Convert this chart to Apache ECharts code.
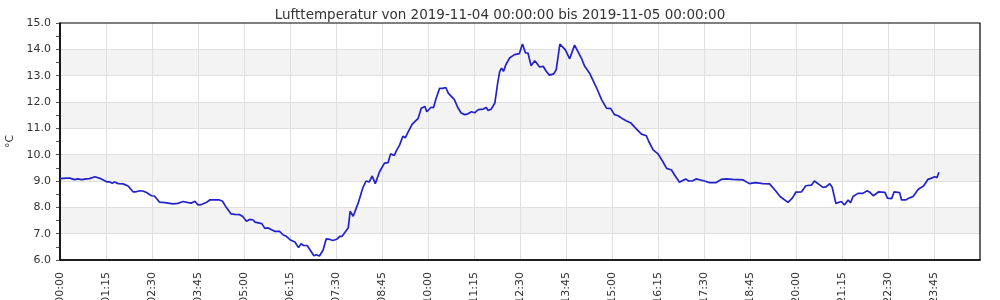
<!DOCTYPE html>
<html><head><meta charset="utf-8">
<script src="https://cdn.jsdelivr.net/npm/echarts@6/dist/echarts.min.js"></script>
<style>html,body{margin:0;padding:0;background:#fff}#c{width:1000px;height:300px}</style>
</head><body><div id="c"></div>
<script>
var titleText = "Lufttemperatur von 2019-11-04 00:00:00 bis 2019-11-05 00:00:00";
var yName = "°C";
var times = ["00:00","00:10","00:16","00:24","00:29","00:35","00:43","00:48","00:57","00:59","01:05","01:16","01:21","01:25","01:29","01:35","01:43","01:51","01:59","02:04","02:10","02:15","02:21","02:29","02:34","02:42","02:51","02:59","03:04","03:12","03:21","03:29","03:34","03:40","03:45","03:50","03:59","04:04","04:12","04:20","04:25","04:31","04:39","04:45","04:53","04:58","05:04","05:09","05:15","05:18","05:29","05:34","05:39","05:45","05:50","05:58","06:04","06:09","06:15","06:23","06:29","06:33","06:37","06:43","06:54","06:58","07:03","07:09","07:14","07:20","07:25","07:32","07:36","07:40","07:50","07:53","07:58","08:06","08:14","08:19","08:24","08:29","08:34","08:41","08:49","08:55","08:59","09:05","09:09","09:14","09:19","09:23","09:27","09:34","09:44","09:49","09:55","09:58","10:05","10:09","10:13","10:19","10:24","10:29","10:33","10:43","10:49","10:54","11:00","11:05","11:11","11:16","11:22","11:30","11:35","11:38","11:43","11:49","11:54","11:57","12:00","12:03","12:07","12:13","12:21","12:29","12:34","12:39","12:43","12:48","12:54","13:02","13:08","13:13","13:18","13:25","13:29","13:35","13:44","13:51","13:59","14:10","14:15","14:24","14:35","14:43","14:51","14:58","15:04","15:10","15:18","15:23","15:31","15:40","15:48","15:56","16:00","16:07","16:15","16:23","16:29","16:37","16:42","16:50","17:00","17:05","17:11","17:17","17:26","17:31","17:39","17:50","17:58","18:06","18:17","18:34","18:37","18:44","18:54","19:06","19:17","19:28","19:34","19:47","19:54","20:00","20:09","20:16","20:25","20:30","20:44","20:49","20:55","20:59","21:05","21:14","21:19","21:25","21:29","21:33","21:41","21:49","21:56","22:01","22:06","22:15","22:25","22:29","22:36","22:40","22:49","22:52","22:59","23:04","23:11","23:19","23:24","23:28","23:35","23:40","23:46","23:50","23:53","24:00"];
var temps = [9.09,9.11,9.11,9.05,9.08,9.05,9.08,9.09,9.16,9.16,9.1,8.97,8.97,8.91,8.96,8.9,8.89,8.81,8.59,8.59,8.63,8.62,8.56,8.44,8.43,8.2,8.18,8.15,8.13,8.15,8.22,8.18,8.16,8.23,8.09,8.1,8.19,8.28,8.28,8.28,8.23,8.0,7.75,7.73,7.72,7.65,7.47,7.54,7.52,7.44,7.38,7.2,7.22,7.15,7.09,7.09,6.95,6.9,6.77,6.68,6.47,6.62,6.55,6.55,6.16,6.2,6.15,6.38,6.8,6.78,6.74,6.8,6.9,6.9,7.22,7.85,7.66,8.15,8.76,9.0,8.96,9.19,8.9,9.35,9.68,9.7,10.03,9.97,10.17,10.38,10.7,10.64,10.84,11.15,11.38,11.76,11.83,11.63,11.8,11.79,12.12,12.52,12.52,12.55,12.34,12.09,11.77,11.58,11.52,11.55,11.63,11.59,11.71,11.73,11.79,11.68,11.73,11.96,12.78,13.16,13.29,13.16,13.42,13.67,13.8,13.84,14.2,13.86,13.86,13.38,13.57,13.33,13.35,13.16,13.02,13.07,13.22,14.2,13.98,13.64,14.16,13.67,13.38,13.07,12.53,12.09,11.77,11.75,11.52,11.48,11.35,11.29,11.2,10.97,10.78,10.72,10.5,10.18,10.03,9.73,9.48,9.42,9.23,8.95,9.08,9.0,9.0,9.08,9.03,9.0,8.94,8.94,9.06,9.08,9.06,9.04,9.08,8.9,8.94,8.9,8.89,8.59,8.41,8.19,8.35,8.58,8.59,8.82,8.84,9.0,8.76,8.78,8.9,8.76,8.15,8.22,8.09,8.28,8.18,8.41,8.53,8.53,8.63,8.56,8.44,8.59,8.57,8.35,8.33,8.59,8.56,8.28,8.28,8.35,8.41,8.68,8.75,8.81,9.06,9.1,9.16,9.13,9.33];
var yTicks = ["6.0","7.0","8.0","9.0","10.0","11.0","12.0","13.0","14.0","15.0"];

function toMin(t){var p=t.split(':');return (+p[0])*60+(+p[1]);}
function fmt(m){var h=Math.floor(m/60),mm=m%60;return (h<10?'0':'')+h+':'+(mm<10?'0':'')+mm;}
var data = times.map(function(t,i){return [toMin(t), temps[i]];});
var font = 'DejaVu Sans';
var chart = echarts.init(document.getElementById('c'));
chart.setOption({
  animation:false,
  title:{text:titleText,left:'center',top:3,textStyle:{fontFamily:font,fontSize:13.5,fontWeight:'normal',color:'#333'}},
  grid:{left:60,right:20,top:23,bottom:40,show:true,borderColor:'#000',borderWidth:1.2,containLabel:false,outerBoundsMode:'none',z:3},
  xAxis:{type:'value',min:0,max:1500,interval:75,
    axisLine:{show:true,lineStyle:{color:'#000',width:1.5}},
    axisTick:{show:false},
    axisLabel:{rotate:90,fontFamily:font,fontSize:11,color:'#333',margin:12,showMaxLabel:false,hideOverlap:false,
      formatter:function(v){return v>=1440?'':fmt(v);}},
    splitLine:{show:true,showMinLine:false,showMaxLine:false,lineStyle:{color:'#e0e0e0',width:1}}},
  yAxis:{type:'value',min:6,max:15,interval:1,name:yName,nameLocation:'middle',nameGap:44,nameRotate:90,
    nameTextStyle:{fontFamily:font,fontSize:11,color:'#333'},
    axisLine:{show:true,lineStyle:{color:'#000',width:1.5}},
    axisTick:{show:true,length:4,lineStyle:{color:'#555'}},
    minorTick:{show:true,splitNumber:2,length:4,lineStyle:{color:'#555'}},
    axisLabel:{fontFamily:font,fontSize:11,color:'#333',margin:9,
      formatter:function(v){var i=Math.round(v-6);return yTicks[i]!==undefined?yTicks[i]:v.toFixed(1);}},
    splitLine:{show:true,showMinLine:false,showMaxLine:false,lineStyle:{color:'#e0e0e0',width:1}},
    splitArea:{show:true,areaStyle:{color:['#ffffff','#f3f3f3']}}},
  series:[{type:'line',data:data,showSymbol:false,symbol:'none',smooth:false,
    lineStyle:{color:'#2222cc',width:1.7},itemStyle:{color:'#2222cc'}}]
});
</script></body></html>
